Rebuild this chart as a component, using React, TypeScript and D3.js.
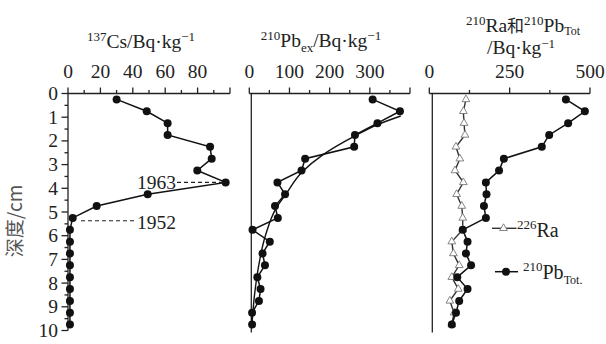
import * as d3 from "d3";

// depth of each slice midpoint (cm)
const depth = [0.25, 0.75, 1.25, 1.75, 2.25, 2.75, 3.25, 3.75, 4.25, 4.75, 5.25, 5.75, 6.25, 6.75, 7.25, 7.75, 8.25, 8.75, 9.25, 9.75];
const cs137 = [30, 48.6, 61.5, 61.5, 87.7, 88.7, 79.8, 97.3, 49.2, 17.7, 2.9, 1.2, 1.2, 1.2, 1.2, 1.2, 1.2, 1.2, 1.2, 1.2];
const pbEx = [307, 375, 319, 263, 261, 139, 130, 70, 89, 64, 71, 8, 51, 33, 39, 20, 28, 24, 7, 7];
// fitted curve
const pbExFitDepth = [0.95, 1.3, 1.8, 2.6, 3.3, 4.3, 4.8, 6.0, 7.4, 8.5, 9.9];
const pbExFit = [377, 321, 262, 182, 132, 89, 68, 40, 22, 13, 6];
const ra226 = [114, 106, 108, 111, 83, 95, 80, 106, 85, 101, 104, 104, 70, 75, 93, 70, 90, 64, 77, 70];
const pbTot = [425, 484, 432, 373, 350, 232, 217, 176, 178, 170, 176, 104, 119, 114, 130, 87, 119, 93, 83, 70];

const depthTicks = [0, 1, 2, 3, 4, 5, 6, 7, 8, 9, 10];
const csTicks = [0, 20, 40, 60, 80];
const pbExTicks = [0, 100, 200, 300];
const totTicks = [0, 250, 500];

const serif = "Liberation Serif, Times New Roman, serif";

function TopAxis({ scale, major, minor, labels, y }) {
  const [x0, x1] = scale.range();
  return (
    <g>
      <line x1={x0} x2={x1} y1={y} y2={y} stroke="#222" strokeWidth={1.3} />
      {major.map((t) => (
        <line key={"M" + t} x1={scale(t)} x2={scale(t)} y1={y} y2={y - 6} stroke="#222" strokeWidth={1.3} />
      ))}
      {minor.map((t) => (
        <line key={"m" + t} x1={scale(t)} x2={scale(t)} y1={y} y2={y - 3.5} stroke="#222" strokeWidth={1.3} />
      ))}
      {labels.map((t) => (
        <text key={"l" + t} x={scale(t)} y={77.5} textAnchor="middle" fontSize={19.5} fontFamily={serif} fill="#222">
          {t}
        </text>
      ))}
    </g>
  );
}

export default function App() {
  const width = 606;
  const height = 344;

  const y = d3.scaleLinear().domain([0, 10]).range([93.5, 330.5]);
  const xCs = d3.scaleLinear().domain([0, 100]).range([68, 230]);
  const xEx = d3.scaleLinear().domain([0, 400]).range([249.3, 410]);
  const xTot = d3.scaleLinear().domain([0, 500]).range([429.3, 590]);

  const line = (xs, vals, ds = depth) =>
    d3.line().x((d) => xs(d[0])).y((d) => y(d[1]))(vals.map((v, i) => [v, ds[i]]));

  const fitLine = d3
    .line()
    .curve(d3.curveMonotoneY)
    .x((d) => xEx(d[0]))
    .y((d) => y(d[1]))(pbExFit.map((v, i) => [v, pbExFitDepth[i]]));

  const tri = d3.symbol(d3.symbolTriangle, 26)();

  const dots = (xs, vals, key) =>
    vals.map((v, i) => <circle key={key + i} cx={xs(v)} cy={y(depth[i])} r={4} fill="#111" />);

  const y0 = y(0);
  const yEnd = y(10);
  const sup = 13;

  return (
    <svg width={width} height={height} style={{ position: "absolute", left: 0, top: 0, background: "#fff" }}>
      {/* titles */}
      <text x={141} y={48} textAnchor="middle" fontSize={19.5} fontFamily={serif} fill="#222">
        <tspan fontSize={sup} dy={-7}>137</tspan>
        <tspan dy={7}>Cs/Bq·kg</tspan>
        <tspan fontSize={sup} dy={-7}>−1</tspan>
      </text>
      <text x={321} y={47} textAnchor="middle" fontSize={19.5} fontFamily={serif} fill="#222">
        <tspan fontSize={sup} dy={-7}>210</tspan>
        <tspan dy={7}>Pb</tspan>
        <tspan fontSize={sup} dy={5}>ex</tspan>
        <tspan dy={-5}>/Bq·kg</tspan>
        <tspan fontSize={sup} dy={-7}>−1</tspan>
      </text>
      <text x={523} y={32} textAnchor="middle" fontSize={19.5} fontFamily={serif} fill="#222">
        <tspan fontSize={sup} dy={-7}>210</tspan>
        <tspan dy={7}>Ra</tspan>
        <tspan fontFamily="Noto Sans CJK SC" fontSize={17}>和</tspan>
        <tspan fontSize={sup} dy={-7}>210</tspan>
        <tspan dy={7}>Pb</tspan>
        <tspan fontSize={12} dy={3}>Tot</tspan>
      </text>
      <text x={521} y={54} textAnchor="middle" fontSize={19.5} fontFamily={serif} fill="#222">
        <tspan>/Bq·kg</tspan>
        <tspan fontSize={sup} dy={-6}>−1</tspan>
      </text>

      {/* top axes */}
      <TopAxis scale={xCs} major={d3.range(0, 101, 20)} minor={d3.range(10, 100, 20)} labels={csTicks} y={y0} />
      <TopAxis scale={xEx} major={d3.range(0, 401, 100)} minor={d3.range(50, 400, 100)} labels={pbExTicks} y={y0} />
      <TopAxis scale={xTot} major={[0, 250, 500]} minor={[125, 375]} labels={totTicks} y={y0} />

      {/* depth axis */}
      <line x1={xCs(0)} x2={xCs(0)} y1={y0} y2={yEnd} stroke="#222" strokeWidth={1.3} />
      {depthTicks.map((t) => (
        <g key={"d" + t}>
          <line x1={xCs(0) - 6.5} x2={xCs(0)} y1={y(t)} y2={y(t)} stroke="#222" strokeWidth={1.3} />
          <text x={58} y={y(t) + 6.5} textAnchor="end" fontSize={19.5} fontFamily={serif} fill="#222">
            {t}
          </text>
        </g>
      ))}
      {d3.range(0.5, 10, 1).map((t) => (
        <line key={"dm" + t} x1={xCs(0) - 3.5} x2={xCs(0)} y1={y(t)} y2={y(t)} stroke="#222" strokeWidth={1.3} />
      ))}
      <text
        transform={`translate(22,221) rotate(-90)`}
        textAnchor="middle"
        fontSize={19}
        fontFamily="Noto Sans CJK SC, Noto Sans, sans-serif"
        fill="#555"
      >
        深度/cm
      </text>

      <line x1={xEx(0) + 2} x2={xEx(0) + 2} y1={y0} y2={yEnd + 2} stroke="#222" strokeWidth={1.3} />
      <line x1={xTot(0) + 3} x2={xTot(0) + 3} y1={y0} y2={yEnd + 2} stroke="#222" strokeWidth={1.3} />

      {/* Cs panel */}
      <path d={line(xCs, cs137)} fill="none" stroke="#111" strokeWidth={1.5} />
      {dots(xCs, cs137, "cs")}
      <line x1={177} x2={xCs(97.3)} y1={y(3.75)} y2={y(3.75)} stroke="#222" strokeWidth={1.2} strokeDasharray="4,3" />
      <text x={137} y={189} fontSize={19.5} fontFamily={serif} fill="#222">1963</text>
      <line x1={81} x2={134} y1={y(5.37)} y2={y(5.37)} stroke="#222" strokeWidth={1.2} strokeDasharray="4,3" />
      <text x={137} y={229} fontSize={19.5} fontFamily={serif} fill="#222">1952</text>

      {/* Pb ex panel */}
      <path d={fitLine} fill="none" stroke="#111" strokeWidth={1.4} />
      <path d={line(xEx, pbEx)} fill="none" stroke="#111" strokeWidth={1.5} />
      {dots(xEx, pbEx, "ex")}

      {/* Ra / Pb tot panel */}
      <path d={line(xTot, ra226)} fill="none" stroke="#333" strokeWidth={1.4} />
      {ra226.map((v, i) => (
        <path key={"ra" + i} d={tri} transform={`translate(${xTot(v)},${y(depth[i])})`} fill="#fff" stroke="#777" strokeWidth={0.9} />
      ))}
      <path d={line(xTot, pbTot)} fill="none" stroke="#111" strokeWidth={1.5} />
      {dots(xTot, pbTot, "tot")}

      {/* legend */}
      <line x1={492} x2={516.5} y1={228.3} y2={228.3} stroke="#333" strokeWidth={1.4} />
      <path d={tri} transform="translate(503.5,228.3)" fill="#fff" stroke="#777" strokeWidth={0.9} />
      <text x={517} y={236.5} fontSize={20} fontFamily={serif} fill="#222">
        <tspan fontSize={13} dy={-8}>226</tspan>
        <tspan dy={8}>Ra</tspan>
      </text>
      <line x1={495} x2={518} y1={271.7} y2={271.7} stroke="#111" strokeWidth={1.5} />
      <circle cx={506} cy={271.7} r={4} fill="#111" />
      <text x={523} y={279.3} fontSize={20} fontFamily={serif} fill="#222">
        <tspan fontSize={13} dy={-8}>210</tspan>
        <tspan dy={8}>Pb</tspan>
        <tspan fontSize={12} dy={5}>Tot.</tspan>
      </text>
    </svg>
  );
}
